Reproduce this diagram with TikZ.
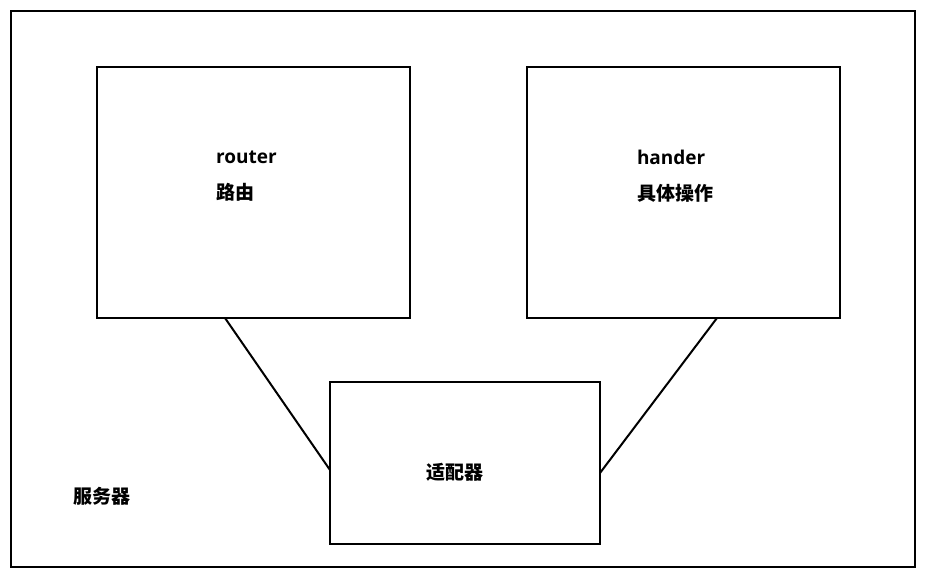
\documentclass[tikz,border=0pt]{standalone}
\usepackage{fontspec}
\setmainfont{Open Sans}
\newfontfamily\cjk{Noto Sans CJK SC}
\usetikzlibrary{positioning}

\begin{document}
\begin{tikzpicture}[
    x=1pt, y=-1pt,
    box/.style={draw, line width=2.6pt, outer sep=0pt, inner sep=0pt},
    label text/.style={font=\fontsize{19}{36}\selectfont\bfseries, align=left, inner sep=0pt},
    wire/.style={line width=2pt}
  ]
    \useasboundingbox (0,0) rectangle (927,583);

    \node[box, minimum width=904pt, minimum height=556pt]       (server)  at (463,289) {};

    \node[box, minimum width=313pt, minimum height=251pt]       (router)  at (253.5,192.5) {};
    \node[box, minimum width=313pt, minimum height=251pt]       (hander)  at (683.5,192.5) {};
    \node[box, minimum width=270pt, minimum height=162pt]       (adapter) at (465,463) {};

    \node[label text] (routertext)  at (246.5,176) {router\\{\cjk 路由}};
    \node[label text] (handertext)  at (675,176)   {hander\\{\cjk 具体操作}};
    \node[label text] (adaptertext) at (455,472)   {{\cjk 适配器}};
    \node[label text] (servertext)  at (102,496)   {{\cjk 服务器}};

    \draw[wire] ([xshift=-28.5pt]router.south) -- ([yshift=-7pt]adapter.west);
    \draw[wire] ([xshift=33.5pt]hander.south)  -- ([yshift=-10pt]adapter.east);
\end{tikzpicture}
\end{document}
